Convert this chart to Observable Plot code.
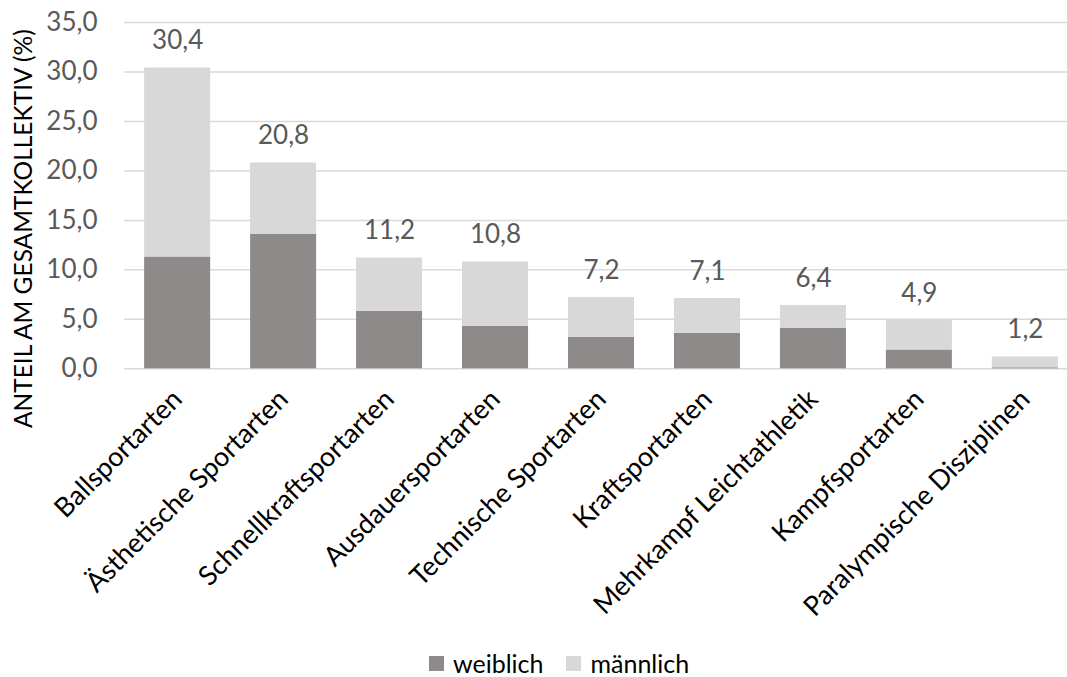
<!DOCTYPE html>
<html>
<head>
<meta charset="utf-8">
<script src="https://cdn.jsdelivr.net/npm/d3@7"></script>
<script src="https://cdn.jsdelivr.net/npm/@observablehq/plot@0.6"></script>
<style>
  body { margin: 0; background: #fff; font-family: Lato, sans-serif; }
  #chart { position: relative; width: 1067px; height: 677px; overflow: hidden; }
  #chart svg { display: block; }
  .legend { position: absolute; top: 651px; left: 429px; display: flex; align-items: center; font-size: 25px; color: #000; line-height: 25px; height: 25px; }
  .legend span.item { display: flex; align-items: center; margin-right: 23px; }
  .legend span.sw { width: 15px; height: 15px; display: inline-block; margin-right: 9px; }
</style>
</head>
<body>
<div id="chart"></div>
<script>
// Sportartengruppen und Anteile am Gesamtkollektiv (%), getrennt nach Geschlecht
const categories = [
  "Ballsportarten",
  "Ästhetische Sportarten",
  "Schnellkraftsportarten",
  "Ausdauersportarten",
  "Technische Sportarten",
  "Kraftsportarten",
  "Mehrkampf Leichtathletik",
  "Kampfsportarten",
  "Paralympische Disziplinen"
];
const weiblich  = [11.3, 13.6, 5.8, 4.3, 3.2, 3.6, 4.1, 1.9, 0.1];
const maennlich = [19.1,  7.2, 5.4, 6.5, 4.0, 3.5, 2.3, 3.0, 1.1];
const seriesNames = ["weiblich", "männlich"];
const seriesColors = ["#8e8a8a", "#d9d8d8"];
const yTicks = [0, 5, 10, 15, 20, 25, 30, 35];
const yTitle = "ANTEIL AM GESAMTKOLLEKTIV (%)";

const fmt = v => v.toFixed(1).replace(".", ",");

const rows = categories.flatMap((c, i) => [
  { kategorie: c, geschlecht: seriesNames[0], wert: weiblich[i] },
  { kategorie: c, geschlecht: seriesNames[1], wert: maennlich[i] }
]);
const totals = categories.map((c, i) => ({ kategorie: c, summe: weiblich[i] + maennlich[i] }));

const H = 640;
const chart = Plot.plot({
  width: 1067,
  height: H,
  marginLeft: 124,
  marginRight: -11,
  marginTop: 22,
  marginBottom: H - 368.3,
  style: { fontFamily: "Lato, sans-serif", background: "#fff", overflow: "visible" },
  x: { domain: categories, paddingInner: 0.377, paddingOuter: 0.19, round: false, label: null },
  y: { domain: [0, 35], label: null },
  color: { domain: seriesNames, range: seriesColors },
  marks: [
    Plot.ruleY(yTicks, { stroke: "#d9d9d9", strokeWidth: 1.5 }),
    Plot.barY(rows, Plot.stackY({ x: "kategorie", y: "wert", fill: "geschlecht" })),
    Plot.text(totals, { x: "kategorie", y: "summe", text: d => fmt(d.summe), dy: -27, fontSize: 26, fill: "#595959" }),
    Plot.axisY({ ticks: yTicks, tickFormat: fmt, tickSize: 0, tickPadding: 27, fontSize: 26, color: "#595959", label: null }),
    Plot.text([yTitle], { frameAnchor: "left", textAnchor: "middle", rotate: -90, dx: -100, dy: 33, fontSize: 24.5, fill: "#000" }),
    Plot.axisX({ tickRotate: -45, tickSize: 0, tickPadding: 26, fontSize: 27, color: "#000", label: null })
  ]
});

const root = document.getElementById("chart");
root.appendChild(chart);

const legend = document.createElement("div");
legend.className = "legend";
seriesNames.forEach((name, i) => {
  const item = document.createElement("span");
  item.className = "item";
  const sw = document.createElement("span");
  sw.className = "sw";
  sw.style.background = seriesColors[i];
  item.appendChild(sw);
  item.appendChild(document.createTextNode(name));
  legend.appendChild(item);
});
root.appendChild(legend);
</script>
</body>
</html>
